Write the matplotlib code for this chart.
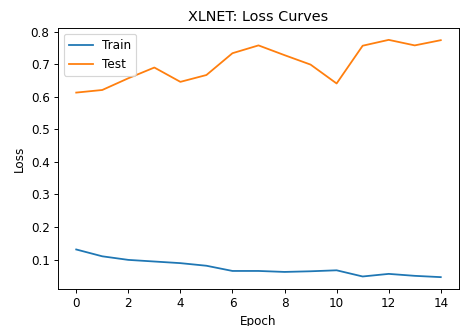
import matplotlib
matplotlib.use("Agg")
import matplotlib.pyplot as plt

epochs = list(range(15))
train_loss = [0.131, 0.110, 0.099, 0.094, 0.089, 0.081, 0.065, 0.065, 0.062, 0.064,
              0.067, 0.048, 0.056, 0.050, 0.046]
test_loss = [0.613, 0.621, 0.657, 0.690, 0.646, 0.667, 0.734, 0.758, 0.728, 0.699,
             0.641, 0.757, 0.775, 0.758, 0.774]

dpi = 86
fig = plt.figure(figsize=(460 / dpi, 326 / dpi), dpi=dpi)
ax = fig.add_axes([58 / 460, 37 / 326, 401 / 460, 261 / 326])
ax.plot(epochs, train_loss, label="Train")
ax.plot(epochs, test_loss, label="Test")
ax.set_title("XLNET: Loss Curves")
ax.set_xlabel("Epoch")
ax.set_ylabel("Loss")
ax.set_xticks(range(0, 15, 2))
ax.legend(loc="upper left")
fig.savefig("out.png", dpi=dpi)
